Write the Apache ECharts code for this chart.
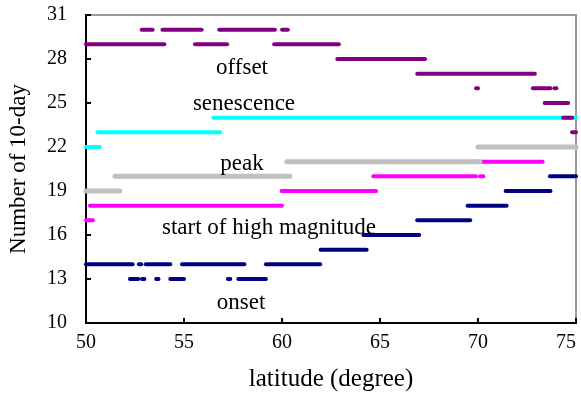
<!DOCTYPE html>
<html>
<head>
<meta charset="utf-8">
<script src="https://cdn.jsdelivr.net/npm/echarts@6/dist/echarts.min.js"></script>
<style>
  html, body { margin: 0; padding: 0; background: #fff; }
  #chart { width: 581px; height: 396px; }
</style>
</head>
<body>
<div id="chart"></div>
<script>
// segments: [latitude from, latitude to, number of 10-day]
var onsetSeg = [
  [50.0, 52.38, 14], [52.7, 52.82, 14], [53.05, 54.3, 14], [54.9, 58.08, 14], [59.18, 61.95, 14],
  [52.24, 52.67, 13], [52.86, 52.98, 13], [53.58, 53.7, 13], [54.3, 55.0, 13], [57.24, 57.36, 13], [57.77, 59.18, 13],
  [61.97, 64.32, 15], [64.15, 67.0, 16], [66.9, 69.6, 17], [69.47, 71.46, 18], [71.41, 73.7, 19], [73.67, 75.0, 20]
];
var highSeg = [
  [50.0, 50.35, 17], [50.2, 60.0, 18], [59.98, 64.8, 19], [64.66, 69.9, 20], [70.1, 70.27, 20],
  [69.85, 73.3, 21], [73.25, 75.0, 22]
];
var peakSeg = [
  [50.0, 51.73, 19], [51.48, 60.4, 20], [60.24, 70.1, 21], [70.0, 75.0, 22]
];
var senescenceSeg = [
  [50.0, 50.7, 22], [50.58, 56.84, 23], [56.5, 75.0, 24]
];
var offsetSeg = [
  [50.0, 54.0, 29], [55.56, 57.2, 29], [59.6, 62.9, 29],
  [52.84, 53.4, 30], [53.9, 55.9, 30], [56.8, 59.64, 30], [60.0, 60.3, 30],
  [62.82, 67.3, 28], [66.9, 72.9, 27],
  [69.9, 70.0, 26], [72.8, 73.7, 26], [73.9, 74.0, 26],
  [73.4, 74.6, 25], [74.35, 74.8, 24], [74.8, 75.0, 23]
];

var labelFont = 'Liberation Serif';

function renderSeg(width) {
  return function (params, api) {
    var p0 = api.coord([api.value(0), api.value(2)]);
    var p1 = api.coord([api.value(1), api.value(2)]);
    return {
      type: 'line',
      shape: { x1: p0[0], y1: p0[1], x2: p1[0], y2: p1[1] },
      style: { stroke: api.visual('color'), lineWidth: width, lineCap: 'round' }
    };
  };
}

function makeSeries(name, data, color, width) {
  return {
    type: 'custom',
    name: name,
    data: data,
    color: color,
    encode: { x: [0, 1], y: 2 },
    renderItem: renderSeg(width),
    silent: true
  };
}

function makeLabel(text, x, y) {
  return {
    type: 'text',
    x: x, y: y,
    style: {
      text: text,
      font: '23px "' + labelFont + '"',
      fill: '#000',
      align: 'center',
      verticalAlign: 'middle'
    },
    z: 100
  };
}

var chart = echarts.init(document.getElementById('chart'));
var option = {
  animation: false,
  backgroundColor: '#fff',
  grid: {
    left: 86, right: 5, top: 15, bottom: 73,
    outerBoundsMode: 'none',
    containLabel: false,
    show: true,
    borderColor: '#999',
    borderWidth: 2
  },
  xAxis: {
    type: 'value',
    min: 50, max: 75, interval: 5,
    name: 'latitude (degree)',
    nameLocation: 'middle',
    nameGap: 44,
    nameTextStyle: { fontFamily: labelFont, fontSize: 25, color: '#000' },
    axisLine: { show: true, lineStyle: { color: '#000', width: 2 } },
    axisTick: { show: true, inside: true, length: 5, lineStyle: { color: '#000', width: 2 } },
    axisLabel: { fontFamily: labelFont, fontSize: 20, color: '#000', margin: 10, alignMaxLabel: 'right' },
    splitLine: { show: false }
  },
  yAxis: {
    type: 'value',
    min: 10, max: 31, interval: 3,
    name: 'Number of 10-day',
    nameLocation: 'middle',
    nameGap: 56,
    nameTextStyle: { fontFamily: labelFont, fontSize: 23, color: '#000' },
    axisLine: { show: true, lineStyle: { color: '#000', width: 2 } },
    axisTick: { show: true, inside: true, length: 5, lineStyle: { color: '#000', width: 2 } },
    axisLabel: { fontFamily: labelFont, fontSize: 20, color: '#000', margin: 19 },
    splitLine: { show: false }
  },
  graphic: [
    makeLabel('offset', 242, 68),
    makeLabel('senescence', 244, 104),
    makeLabel('peak', 242, 164),
    makeLabel('start of high magnitude', 269, 228),
    makeLabel('onset', 241, 303)
  ],
  series: [
    makeSeries('start of high magnitude', highSeg, '#ff00ff', 4),
    makeSeries('peak', peakSeg, '#c0c0c0', 5),
    makeSeries('onset', onsetSeg, '#000080', 4),
    makeSeries('senescence', senescenceSeg, '#00ffff', 4),
    makeSeries('offset', offsetSeg, '#800080', 4)
  ]
};
chart.setOption(option);
</script>
</body>
</html>
